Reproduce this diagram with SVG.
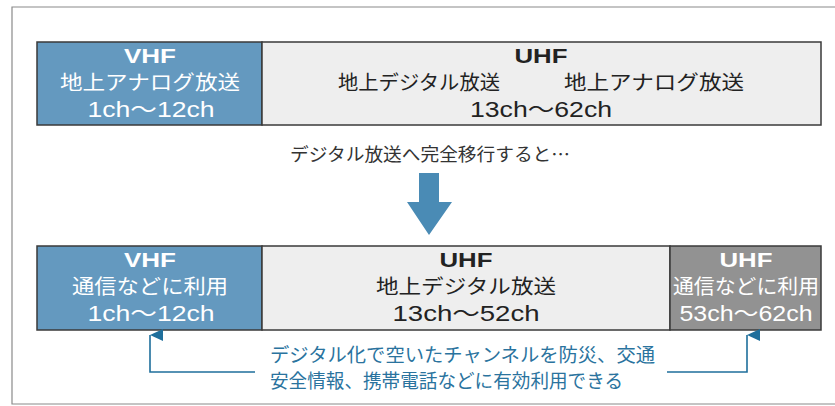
<svg xmlns="http://www.w3.org/2000/svg" width="835" height="406" viewBox="0 0 835 406">
<style>
.cell{stroke:#3a3a3a;stroke-width:1.5}
.t{font-family:"Liberation Sans","Noto Sans CJK JP",sans-serif;text-anchor:middle}
.b{font-weight:bold;font-size:20px}
.j{font-family:"Noto Sans CJK JP",sans-serif;font-size:20px}
.n{font-size:22px}
.w{fill:#ffffff}
.k{fill:#222222}
.bl{fill:#2a739e}
.ln{fill:none;stroke:#1f6f9c;stroke-width:1.6}
</style>
<defs>
<marker id="ah" viewBox="0 0 12 13" refX="6" refY="0" markerWidth="12" markerHeight="13" markerUnits="userSpaceOnUse" orient="auto-start-reverse">
<path d="M0,13 L6,0 L12,13 Z" fill="#1f6f9c"/>
</marker>
</defs>
<rect width="835" height="406" fill="#ffffff"/>
<path d="M835,7 H12 V404 H835" fill="none" stroke="#8a8a8a" stroke-width="1.2"/>

<g id="top-vhf">
<rect class="cell" x="37" y="42" width="225" height="83" fill="#6499bf"/>
<text class="t b w" x="150" y="63" textLength="52" lengthAdjust="spacingAndGlyphs">VHF</text>
<text class="t j w" x="150" y="90" textLength="180" lengthAdjust="spacingAndGlyphs">地上アナログ放送</text>
<text class="t n w" x="151" y="117" textLength="127" lengthAdjust="spacingAndGlyphs">1ch～12ch</text>
</g>
<g id="top-uhf">
<rect class="cell" x="262" y="42" width="559" height="83" fill="#eeeeee"/>
<text class="t b k" x="541" y="63" textLength="53" lengthAdjust="spacingAndGlyphs">UHF</text>
<text class="t j k" x="419" y="90" textLength="162" lengthAdjust="spacingAndGlyphs">地上デジタル放送</text>
<text class="t j k" x="654" y="90" textLength="180" lengthAdjust="spacingAndGlyphs">地上アナログ放送</text>
<text class="t n k" x="541" y="117" textLength="142" lengthAdjust="spacingAndGlyphs">13ch～62ch</text>
</g>

<g id="caption">
<text class="t k" x="430" y="161" style="font-family:'Noto Sans CJK JP',sans-serif;font-size:18px;fill:#333" textLength="280" lengthAdjust="spacingAndGlyphs">デジタル放送へ完全移行すると…</text>
</g>
<g id="big-arrow">
<path d="M419,173 H439 V202 H452 L429,235 L407,202 H419 Z" fill="#4a8bb5"/>
</g>

<g id="bot-vhf">
<rect class="cell" x="37" y="246" width="225" height="84" fill="#6499bf"/>
<text class="t b w" x="150" y="267" textLength="52" lengthAdjust="spacingAndGlyphs">VHF</text>
<text class="t j w" x="150" y="294" textLength="156" lengthAdjust="spacingAndGlyphs">通信などに利用</text>
<text class="t n w" x="151" y="321" textLength="127" lengthAdjust="spacingAndGlyphs">1ch～12ch</text>
</g>
<g id="bot-uhf">
<rect class="cell" x="262" y="246" width="408" height="84" fill="#eeeeee"/>
<text class="t b k" x="466" y="267" textLength="53" lengthAdjust="spacingAndGlyphs">UHF</text>
<text class="t j k" x="466" y="294" textLength="180" lengthAdjust="spacingAndGlyphs">地上デジタル放送</text>
<text class="t n k" x="466" y="321" textLength="147" lengthAdjust="spacingAndGlyphs">13ch～52ch</text>
</g>
<g id="bot-uhf2">
<rect class="cell" x="670" y="246" width="151" height="84" fill="#929292"/>
<text class="t b w" x="746" y="267" textLength="53" lengthAdjust="spacingAndGlyphs">UHF</text>
<text class="t j w" x="746" y="294" textLength="146" lengthAdjust="spacingAndGlyphs">通信などに利用</text>
<text class="t n w" x="746" y="321" textLength="133" lengthAdjust="spacingAndGlyphs">53ch～62ch</text>
</g>

<g id="connectors">
<path class="ln" d="M255,372 H150 V335" marker-end="url(#ah)"/>
<path class="ln" d="M667,372 H747 V335" marker-end="url(#ah)"/>
</g>

<g id="note">
<text class="bl" x="270" y="362" style="font-family:'Noto Sans CJK JP',sans-serif;font-size:19px" textLength="385" lengthAdjust="spacingAndGlyphs">デジタル化で空いたチャンネルを防災、交通</text>
<text class="bl" x="270" y="388" style="font-family:'Noto Sans CJK JP',sans-serif;font-size:19px" textLength="353" lengthAdjust="spacingAndGlyphs">安全情報、携帯電話などに有効利用できる</text>
</g>
</svg>
